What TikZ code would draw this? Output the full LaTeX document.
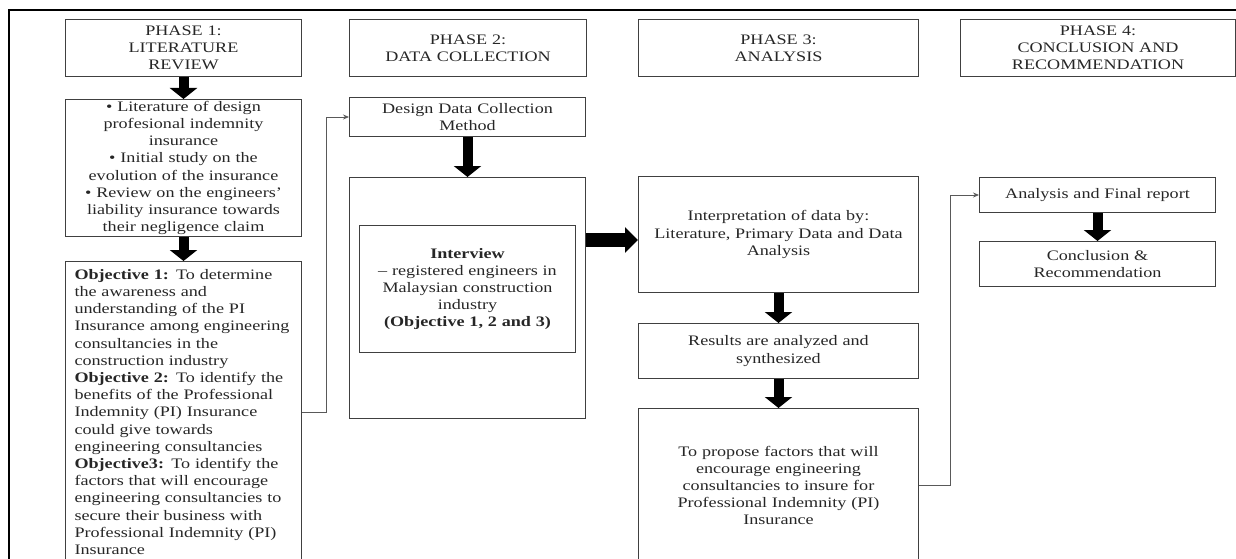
\documentclass[tikz,border=0pt]{standalone}
\usepackage{fontspec}
\setmainfont{Liberation Serif}[FakeStretch=1.25]
\usetikzlibrary{positioning,arrows.meta}
\tikzset{
    plain-box/.style = {draw=black!75, line width=1pt, rectangle, inner sep=0pt, align=center, text=black!85, font=\fontsize{14.5}{17.2}\selectfont},
    phase-box/.style = {plain-box, minimum height=57pt},
    block-arrow/.style = {line width=10pt, -{Triangle[length=11pt, width=27pt]}},
    thin-link/.style = {draw=black!65, line width=0.8pt, -{Stealth[length=6pt, width=5pt]}},
}

\begin{document}
\begin{tikzpicture}[x=1pt, y=-1pt]
\useasboundingbox (0,0) rectangle (1236,559);
\draw[line width=2.5pt] (9,570) -- (9,10) -- (1245,10);

\node[phase-box, anchor=north west, minimum width=236pt, text width=220pt] (ph1) at (65,19) {PHASE 1:\\LITERATURE\\REVIEW};
\node[phase-box, anchor=north west, minimum width=237pt, text width=220pt] (ph2) at (349,19) {PHASE 2:\\DATA COLLECTION};
\node[phase-box, anchor=north west, minimum width=280pt, text width=260pt] (ph3) at (638,19) {PHASE 3:\\ANALYSIS};
\node[phase-box, anchor=north west, minimum width=275pt, text width=260pt] (ph4) at (960,19) {PHASE 4:\\CONCLUSION AND\\RECOMMENDATION};

\node[plain-box, below=22pt of ph1, minimum width=236pt, minimum height=137pt, text width=225pt] (lit) {\textbullet\ Literature of design\\profesional indemnity\\insurance\\\textbullet\ Initial study on the\\evolution of the insurance\\\textbullet\ Review on the engineers'\\liability insurance towards\\their negligence claim};
\node[plain-box, below=24pt of lit, minimum width=236pt, minimum height=301pt, text width=218pt, align=left] (obj) {\textbf{Objective 1:} To determine\\the awareness and\\understanding of the PI\\Insurance among engineering\\consultancies in the\\construction industry\\\textbf{Objective 2:} To identify the\\benefits of the Professional\\Indemnity (PI) Insurance\\could give towards\\engineering consultancies\\\textbf{Objective3:} To identify the\\factors that will encourage\\engineering consultancies to\\secure their business with\\Professional Indemnity (PI)\\Insurance};

\node[plain-box, anchor=north west, minimum width=236pt, minimum height=39pt, text width=220pt] (design) at (349,97) {Design Data Collection\\Method};
\node[plain-box, below=40pt of design, minimum width=236pt, minimum height=241pt] (data) {};
\node[plain-box, anchor=north west, minimum width=216pt, minimum height=127pt, text width=205pt] (interview) at (359,225) {\textbf{Interview}\\– registered engineers in\\Malaysian construction\\industry\\\textbf{(Objective 1, 2 and 3)}};

\node[plain-box, anchor=north west, minimum width=280pt, minimum height=116pt, text width=270pt] (interp) at (638,176) {Interpretation of data by:\\Literature, Primary Data and Data\\Analysis};
\node[plain-box, below=30pt of interp, minimum width=280pt, minimum height=55pt, text width=260pt] (results) {Results are analyzed and\\synthesized};
\node[plain-box, below=29pt of results, minimum width=280pt, minimum height=154pt, text width=260pt] (propose) {To propose factors that will\\encourage engineering\\consultancies to insure for\\Professional Indemnity (PI)\\Insurance};

\node[plain-box, anchor=north west, minimum width=236pt, minimum height=35pt, text width=225pt] (analysis) at (979,177) {Analysis and Final report};
\node[plain-box, below=28pt of analysis, minimum width=236pt, minimum height=45pt, text width=225pt] (concl) {Conclusion \&\\Recommendation};

\coordinate (mid-y) at (0,240);
\draw[block-arrow] (ph1) -- (lit);
\draw[block-arrow] (lit) -- (obj);
\draw[block-arrow] (design) -- (data);
\draw[block-arrow, line width=14pt, -{Triangle[length=13pt, width=25pt]}] (data.east |- mid-y) -- (interp.west |- mid-y);
\draw[block-arrow] (interp) -- (results);
\draw[block-arrow] (results) -- (propose);
\draw[block-arrow] (analysis) -- (concl);

\draw[thin-link] (obj.east) -- ++(24,0) |- (design.west);
\draw[thin-link] (propose.east) -- ++(31,0) |- (analysis.west);
\end{tikzpicture}
\end{document}
